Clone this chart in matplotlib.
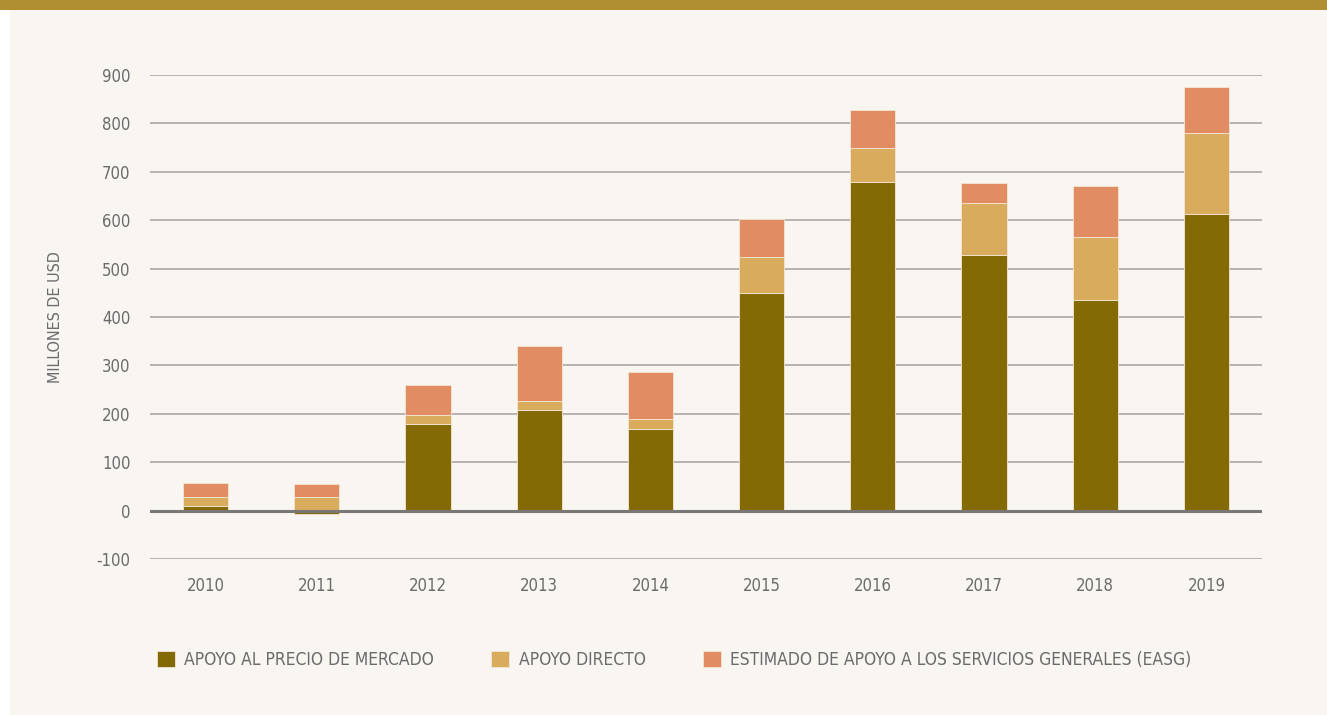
import numpy as np
import matplotlib
matplotlib.use("Agg")
import matplotlib.pyplot as plt
from matplotlib.patches import Rectangle

years = ["2010", "2011", "2012", "2013", "2014", "2015", "2016", "2017", "2018", "2019"]
mercado = [10, -7, 178, 208, 169, 450, 679, 529, 435, 612]
directo = [19, 29, 20, 18, 20, 73, 70, 106, 130, 169]
easg = [27, 26, 61, 114, 97, 79, 79, 42, 105, 95]

labels = ["APOYO AL PRECIO DE MERCADO", "APOYO DIRECTO",
          "ESTIMADO DE APOYO A LOS SERVICIOS GENERALES (EASG)"]
colors = ["#846a04", "#d9ab5d", "#e18c63"]

plt.rcParams['font.family'] = ['DejaVu Sans']
plt.rcParams['font.stretch'] = 'condensed'
plt.rcParams['axes.unicode_minus'] = False
txt = "#6b6b6b"

fig = plt.figure(figsize=(13.27, 7.15), dpi=100)
fig.patch.set_facecolor("white")
# panel background + gold band on top
fig.add_artist(Rectangle((10 / 1327, 0), 1, 1, transform=fig.transFigure,
                         facecolor="#f9f5f1", edgecolor="none", zorder=-2))
fig.add_artist(Rectangle((0, 1 - 10 / 715), 1, 10 / 715, transform=fig.transFigure,
                         facecolor="#af8f2f", edgecolor="none", zorder=-1))

ax = fig.add_axes([150 / 1327, 1 - 559 / 715, 1112 / 1327, 484 / 715])
ax.set_facecolor("none")

x = np.arange(len(years))
m = np.array(mercado)
d = np.array(directo)
e = np.array(easg)
base_d = np.maximum(m, 0)
w = 0.405
ax.bar(x, m, w, color=colors[0], label=labels[0], zorder=3, edgecolor="#f3e6d6", linewidth=0.6)
ax.bar(x, d, w, bottom=base_d, color=colors[1], label=labels[1], zorder=3, edgecolor="#f3e6d6", linewidth=0.6)
ax.bar(x, e, w, bottom=base_d + d, color=colors[2], label=labels[2], zorder=3, edgecolor="#f3e6d6", linewidth=0.6)

ax.set_xlim(-0.5, 9.5)
ax.set_ylim(-100, 900)
ax.set_yticks(range(-100, 901, 100))
for yv in range(-100, 901, 100):
    if yv == 0:
        ax.axhline(yv, color="#7a7877", lw=2.2, zorder=4)
    else:
        ax.axhline(yv, color="#b3aeaa", lw=1.3, zorder=1)
for s in ax.spines.values():
    s.set_visible(False)
ax.tick_params(axis="both", length=0, labelsize=12, colors=txt)
ax.tick_params(axis="y", pad=14)
ax.tick_params(axis="x", pad=13)
ax.set_xticks(x)
ax.set_xticklabels(years)
ax.set_ylabel("MILLONES DE USD", fontsize=11.5, color=txt, labelpad=24)

fig.legend(loc="center left", bbox_to_anchor=(141 / 1327, 1 - 660 / 715), ncol=3,
           frameon=False, fontsize=12.5, labelcolor=txt, handlelength=1.03,
           handleheight=1.0, handletextpad=0.55, columnspacing=3.3)

fig.savefig("out.png", dpi=100, facecolor=fig.get_facecolor())
